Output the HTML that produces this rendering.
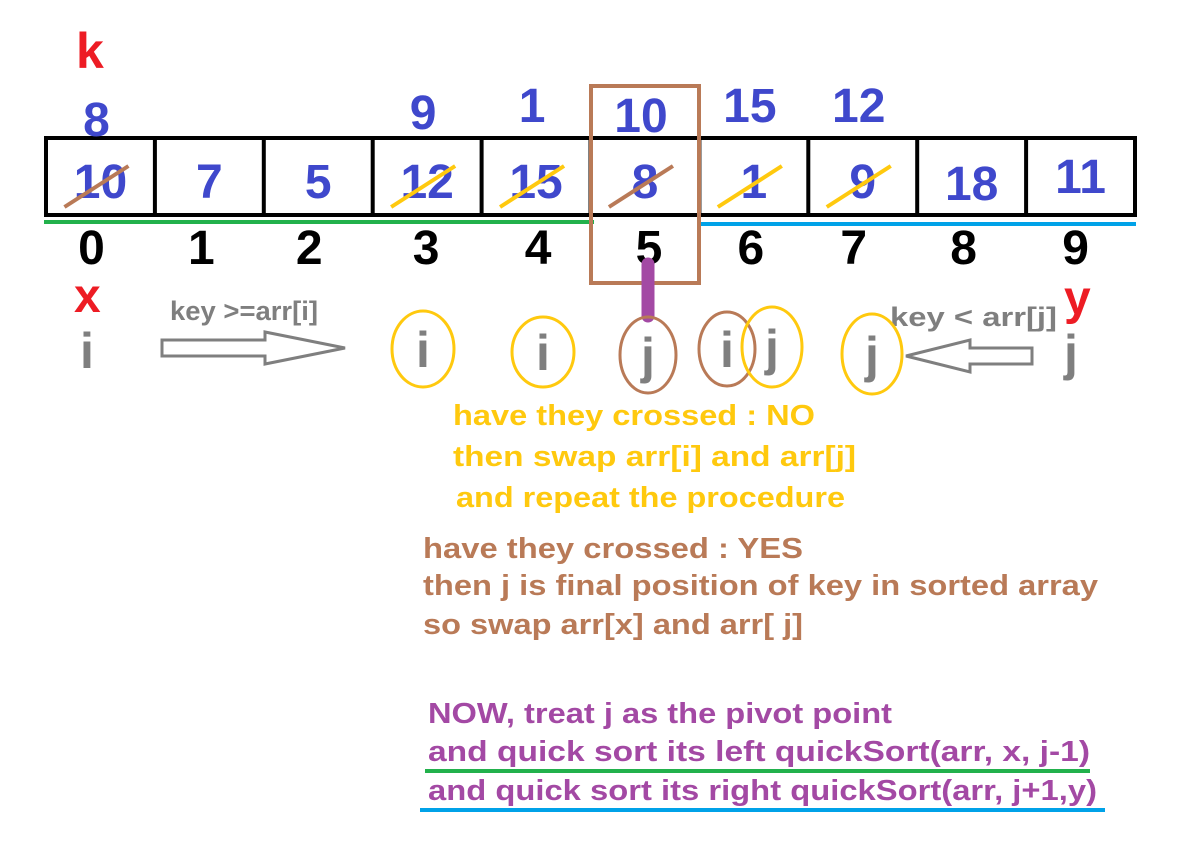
<!DOCTYPE html>
<html><head><meta charset="utf-8"><style>
html,body{margin:0;padding:0;background:#fff;}
svg{display:block;font-family:"Liberation Sans",sans-serif;font-weight:bold;}
</style></head><body>
<svg id="d" width="1198" height="848" viewBox="0 0 1198 848">
<text x="76" y="68" font-size="50" fill="#ed1c24">k</text>
<rect x="46" y="138" width="1089" height="77" fill="none" stroke="#000" stroke-width="4"/>
<g id="cells"></g>
<line x1="44" y1="222" x2="594" y2="222" stroke="#22b14c" stroke-width="4"/>
<line x1="697" y1="224" x2="1136" y2="224" stroke="#00a2e8" stroke-width="4"/>
<rect x="591" y="86" width="108" height="197" fill="none" stroke="#b97a57" stroke-width="4"/>
<line x1="648" y1="264" x2="648" y2="316" stroke="#a349a4" stroke-width="13" stroke-linecap="round"/>
<text x="74" y="312" font-size="48" fill="#ed1c24">x</text>
<text x="1064" y="314" font-size="48" fill="#ed1c24">y</text>
<text x="80" y="368" font-size="50" fill="#7f7f7f">i</text>
<text x="1064" y="370" font-size="50" fill="#7f7f7f">j</text>
<text x="170" y="320" font-size="27" fill="#7f7f7f" textLength="148" lengthAdjust="spacingAndGlyphs">key &gt;=arr[i]</text>
<text x="890" y="326" font-size="27" fill="#7f7f7f" textLength="167" lengthAdjust="spacingAndGlyphs">key &lt; arr[j]</text>
<polygon points="162,340 265,340 265,332 345,348 265,364 265,356 162,356" fill="none" stroke="#7f7f7f" stroke-width="3"/>
<polygon points="1032,348 970,348 970,340 906,356 970,372 970,364 1032,364" fill="none" stroke="#7f7f7f" stroke-width="3"/>
<g id="marks"></g>
<g font-size="29" lengthAdjust="spacingAndGlyphs">
<text x="453" y="425" fill="#ffc90e" textLength="362" lengthAdjust="spacingAndGlyphs">have they crossed : NO</text>
<text x="453" y="466" fill="#ffc90e" textLength="403" lengthAdjust="spacingAndGlyphs">then swap arr[i] and arr[j]</text>
<text x="456" y="507" fill="#ffc90e" textLength="389" lengthAdjust="spacingAndGlyphs">and repeat the procedure</text>
<text x="423" y="558" fill="#b97a57" textLength="380" lengthAdjust="spacingAndGlyphs">have they crossed : YES</text>
<text x="423" y="595" fill="#b97a57" textLength="675" lengthAdjust="spacingAndGlyphs">then j is final position of key in sorted array</text>
<text x="423" y="634" fill="#b97a57" textLength="380" lengthAdjust="spacingAndGlyphs">so swap arr[x] and arr[ j]</text>
<text x="428" y="723" fill="#a349a4" textLength="464" lengthAdjust="spacingAndGlyphs">NOW, treat j as the pivot point</text>
<text x="428" y="761" fill="#a349a4" textLength="662" lengthAdjust="spacingAndGlyphs">and quick sort its left  quickSort(arr, x, j-1)</text>
<text x="428" y="800" fill="#a349a4" textLength="669" lengthAdjust="spacingAndGlyphs">and quick sort its right quickSort(arr, j+1,y)</text>
</g>
<line x1="425" y1="771" x2="1090" y2="771" stroke="#22b14c" stroke-width="4"/>
<line x1="420" y1="810" x2="1105" y2="810" stroke="#00a2e8" stroke-width="4"/>
</svg>
<script>
const oldValues=["10","7","5","12","15","8","1","9","18","11"];
const newValues=["8","","","9","1","10","15","12","",""];
const indexLabels=["0","1","2","3","4","5","6","7","8","9"];
const strikeColors=["#b97a57","","","#ffc90e","#ffc90e","#b97a57","#ffc90e","#ffc90e","",""];
const NS="http://www.w3.org/2000/svg";
const x0=46,cw=108.9;
const newY=[136,0,0,129,122,132,122,122,0,0];
const oldY=[198,198,198,198,198,198,198,198,200,193];
const idxShift=[-9,-8,-9,-1,2,4,-3,-9,-8,-5];
const cells=document.getElementById('cells');
function mk(t,a,p){const e=document.createElementNS(NS,t);for(const k in a)e.setAttribute(k,a[k]);p.appendChild(e);return e;}
oldValues.forEach((v,i)=>{
 const cx=x0+cw*(i+0.5);
 if(i>0){const l=mk('line',{x1:x0+cw*i,y1:138,x2:x0+cw*i,y2:215,stroke:'#000','stroke-width':4},cells);
 
 }
 const t=mk('text',{x:cx,y:oldY[i],'text-anchor':'middle','font-size':48,fill:'#3f48cc'},cells);t.textContent=v;
 
 
 if(strikeColors[i]){const s=mk('line',{x1:cx-36,y1:207,x2:cx+28,y2:166,stroke:strikeColors[i],'stroke-width':4},cells);
 
 }
 if(newValues[i]){const n=mk('text',{x:cx-4,y:newY[i],'text-anchor':'middle','font-size':48,fill:'#3f48cc'},cells);n.textContent=newValues[i];
 
 }
 const ix=mk('text',{x:cx+idxShift[i],y:264,'text-anchor':'middle','font-size':48,fill:'#000'},cells);ix.textContent=indexLabels[i];
 
 
});
const marks=document.getElementById('marks');
const ellipses=[[423,349,31,38,'#ffc90e','i'],[543,352,31,35,'#ffc90e','i'],[648,355,28,38,'#b97a57','j'],[727,349,28,37,'#b97a57','i'],[772,347,30,40,'#ffc90e','j'],[872,354,30,40,'#ffc90e','j']];
ellipses.forEach(e=>{
 const el=mk('ellipse',{cx:e[0],cy:e[1],rx:e[2],ry:e[3],fill:'none',stroke:e[4],'stroke-width':3},marks);
 
 
 const t=mk('text',{x:e[0],y:e[1]+18,'text-anchor':'middle','font-size':50,fill:'#7f7f7f'},marks);t.textContent=e[5];
 
 
});
</script>
</body></html>
